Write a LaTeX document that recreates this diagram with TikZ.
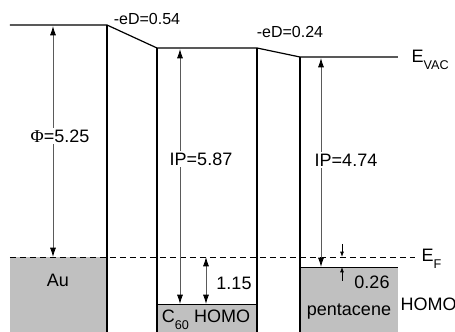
\documentclass[tikz,border=0pt]{standalone}
\usepackage{fontspec}
\setmainfont{Liberation Sans}
\newfontfamily\greekserif{Liberation Serif}
\usetikzlibrary{arrows.meta}
\definecolor{boxgray}{RGB}{192,192,192}
\definecolor{arrgray}{RGB}{90,90,90}
\begin{document}
\begin{tikzpicture}[x=0.75pt,y=-0.75pt,
  level/.style={line width=0.9pt, black},
  thinlevel/.style={line width=0.7pt, black},
  fermi/.style={line width=0.6pt, dash pattern=on 4.5pt off 3pt},
  energyarrow/.style={line width=0.6pt, arrgray, {Latex[black,length=7pt,width=4.5pt]}-{Latex[black,length=7pt,width=4.5pt]}},
  smallarrow/.style={line width=0.6pt, black, -{Latex[black,length=4pt,width=3pt]}},
  lab/.style={font=\fontsize{13.5}{15}\selectfont, inner sep=1pt},
  wlab/.style={lab, fill=white},
  smalllab/.style={font=\fontsize{12}{14}\selectfont, inner sep=1pt}]
\useasboundingbox (0,0) rectangle (455,332);
% gray filled regions
\fill[boxgray] (10,257) rectangle (107,332);
\fill[boxgray] (157,304) rectangle (257,332);
\fill[boxgray] (300,267) rectangle (398,332);
% level corners
\coordinate (auL) at (10,25);
\coordinate (auR) at (107,25);
\coordinate (auB) at (107,332);
\coordinate (cL) at (157,48);
\coordinate (cR) at (257,48);
\coordinate (cLB) at (157,332);
\coordinate (cRB) at (257,332);
\coordinate (pL) at (300,57);
\coordinate (pR) at (398,57);
\coordinate (pLB) at (300,332);
\coordinate (cHL) at (157,304);
\coordinate (cHR) at (257,304);
\coordinate (pHL) at (300,267);
\coordinate (pHR) at (398,267);
\coordinate (fL) at (10,257);
\coordinate (fR) at (415,257);
\draw[level] (auL) -- (auR) -- (cL) -- (cR) -- (pL) -- (pR);
\draw[level] (auR) -- (auB);
\draw[level] (cL) -- (cLB);
\draw[level] (cR) -- (cRB);
\draw[level] (pL) -- (pLB);
\draw[thinlevel] (cHL) -- (cHR);
\draw[thinlevel] (pHL) -- (pHR);
\draw[fermi] (fL) -- (fR);
% arrows
\coordinate (phiT) at (53,26);
\coordinate (phiB) at (53,257);
\coordinate (ipcT) at (180,49);
\coordinate (ipcB) at (180,304);
\coordinate (hcT) at (206,257);
\coordinate (hcB) at (206,304);
\coordinate (ippT) at (321,58);
\coordinate (ippB) at (321,267);
\coordinate (sdT) at (342,244);
\coordinate (sdB) at (342,257);
\coordinate (suT) at (342,267);
\coordinate (suB) at (342,281);
\draw[energyarrow] (phiT) -- (phiB);
\draw[energyarrow] (ipcT) -- (ipcB);
\draw[energyarrow] (hcT) -- (hcB);
\draw[energyarrow] (ippT) -- (ippB);
\draw[smallarrow] (sdT) -- (sdB);
\draw[smallarrow] (suB) -- (suT);
% labels
\node[wlab] (phi) at (60,136) {{\greekserif Φ}=5.25};
\node[wlab] (ipc) at (201,159) {IP=5.87};
\node[lab] (hc) at (234,283) {1.15};
\node[wlab] (ipp) at (346,160) {IP=4.74};
\node[lab] (sp) at (372,282) {0.26};
\node[smalllab] (ed1) at (147,19) {-eD=0.54};
\node[smalllab] (ed2) at (290,32) {-eD=0.24};
\node[lab, anchor=base west] (evac) at (410,63) {E\raisebox{-5pt}{\fontsize{9.5}{10}\selectfont VAC}};
\node[lab, anchor=base west] (ef) at (420,262) {E\raisebox{-5pt}{\fontsize{9.5}{10}\selectfont F}};
\node[lab] (au) at (58,280) {Au};
\node[lab] (c60) at (206,320) {C\raisebox{-5pt}{\fontsize{9.5}{10}\selectfont 60} HOMO};
\node[lab] (pent) at (349,312) {pentacene};
\node[lab, anchor=west] (homo) at (399,304) {HOMO};
\end{tikzpicture}
\end{document}
